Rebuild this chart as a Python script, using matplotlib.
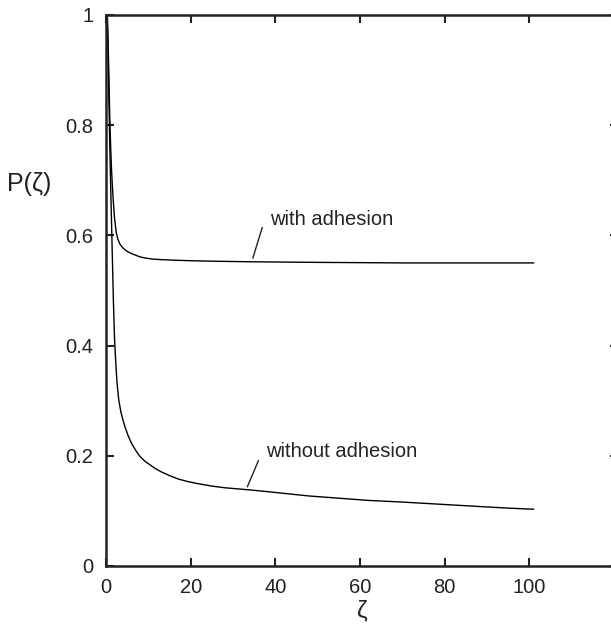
import matplotlib
matplotlib.use("Agg")
import matplotlib.pyplot as plt
from matplotlib.ticker import FuncFormatter

plt.rcParams['font.family'] = ['Liberation Sans', 'DejaVu Sans']

# Survival probability P(zeta) without adhesion
zeta_without = [0.3, 0.5, 0.7, 0.9, 1.1, 1.3, 1.5, 1.75, 2.0, 2.3, 2.6, 3.0, 3.5, 4.0,
                4.5, 5.2, 6.0, 7.0, 8.0, 9.2, 10.5, 11.6, 13.0, 15.0, 17.0, 19.4, 22.0,
                25.0, 28.0, 31.0, 34.0, 38.0, 43.0, 48.0, 55.0, 62.0, 70.0, 79.0, 88.0,
                95.0, 101.0]
p_without = [1.0, 0.93, 0.84, 0.76, 0.69, 0.625, 0.56, 0.48, 0.415, 0.37, 0.333, 0.302,
             0.280, 0.265, 0.252, 0.237, 0.223, 0.210, 0.199, 0.190, 0.183, 0.177, 0.171,
             0.164, 0.158, 0.153, 0.149, 0.145, 0.142, 0.140, 0.138, 0.135, 0.131, 0.127,
             0.123, 0.119, 0.116, 0.112, 0.108, 0.105, 0.103]

# Survival probability P(zeta) with adhesion
zeta_with = [0.3, 0.5, 0.7, 0.9, 1.1, 1.3, 1.5, 1.7, 2.0, 2.4, 2.8, 3.3, 4.0, 5.0, 6.0,
             7.0, 8.0, 9.2, 11.0, 13.0, 16.0, 20.0, 26.0, 35.0, 50.0, 70.0, 101.0]
p_with = [1.0, 0.95, 0.88, 0.81, 0.76, 0.72, 0.69, 0.665, 0.632, 0.606, 0.593, 0.584,
          0.577, 0.571, 0.567, 0.564, 0.561, 0.559, 0.557, 0.556, 0.555, 0.554, 0.553,
          0.552, 0.551, 0.550, 0.550]

x_ticks = [0, 20, 40, 60, 80, 100]
y_ticks = [0, 0.2, 0.4, 0.6, 0.8, 1]

fig = plt.figure(figsize=(6.11, 6.37), dpi=100)
ax = fig.add_axes([0.1735, 0.1115, 0.8383, 0.865])

ax.plot(zeta_with, p_with, color='black', lw=1.0)
ax.plot(zeta_without, p_without, color='black', lw=1.0)

ax.set_xlim(0, 121)
ax.set_ylim(0, 1)
ax.set_xticks(x_ticks)
ax.set_yticks(y_ticks)
fmt = FuncFormatter(lambda v, pos: f"{v:g}")
ax.xaxis.set_major_formatter(fmt)
ax.yaxis.set_major_formatter(fmt)
ax.tick_params(direction='in', length=6, width=1.5, labelsize=14.5, pad=9,
               top=True, right=True, colors='#222222')
for s in ax.spines.values():
    s.set_linewidth(1.8)
    s.set_color('#222222')

ax.set_xlabel('ζ', fontsize=17.5, labelpad=2, color='#222222')
fig.text(0.012, 0.711, 'P(ζ)', fontsize=18, va='center', ha='left', color='#222222')

# Curve annotations with short leader lines
ax.plot([34.7, 36.9], [0.559, 0.614], color='#222222', lw=1.0)
ax.text(38.7, 0.619, 'with adhesion', fontsize=14.5, ha='left', va='baseline',
        color='#222222')
ax.plot([33.4, 36.0], [0.144, 0.191], color='#222222', lw=1.0)
ax.text(37.8, 0.197, 'without adhesion', fontsize=14.5, ha='left', va='baseline',
        color='#222222')

fig.savefig('out.png', dpi=100)
